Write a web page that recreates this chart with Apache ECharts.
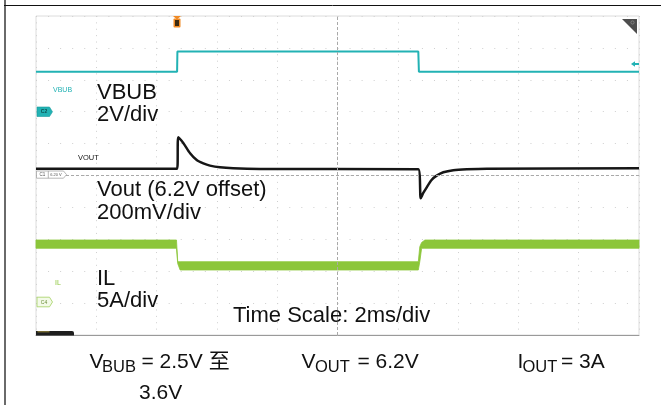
<!DOCTYPE html>
<html><head><meta charset="utf-8">
<script src="https://cdn.jsdelivr.net/npm/echarts@6/dist/echarts.min.js"></script>
<style>html,body{margin:0;padding:0;background:#fff}#c{width:661px;height:405px}</style>
</head><body><div id="c"></div>
<script>
// ---- time axis: 2 ms/div, 10 divisions ----
const timeMin = 0, timeMax = 20, timeStep = 2;

// ---- VBUB channel (V), 2 V/div ----
const vbubTime  = [0, 4.68, 4.69, 12.68, 12.70, 20];
const vbubVolts = [2.50, 2.50, 3.77, 3.77, 2.50, 2.50];

// ---- VOUT channel (V), 200 mV/div, 6.2 V offset ----
const voutTime  = [0, 4.68, 4.72, 4.89, 5.11, 5.33, 5.55, 5.77, 6.10, 6.54, 7.43, 12.68,
                   12.76, 12.84, 12.96, 13.12, 13.29, 13.51, 13.84, 14.29, 14.95, 20];
const voutVolts = [6.243, 6.243, 6.440, 6.402, 6.339, 6.297, 6.276, 6.262, 6.251, 6.245, 6.241, 6.239,
                   6.057, 6.089, 6.126, 6.172, 6.199, 6.220, 6.233, 6.239, 6.243, 6.245];
const voutOffset = 6.2;

// ---- IL channel (A), 5 A/div: ripple envelope (top / bottom of band) ----
const ilTime   = [0, 4.66, 4.70, 4.78, 12.68, 12.73, 12.79, 12.90, 20];
const ilTop    = [9.89, 9.89, 6.49, 6.49, 6.49, 8.84, 9.50, 9.89, 9.89];
const ilBottom = [8.59, 8.59, 6.20, 5.19, 5.19, 6.50, 8.59, 8.59, 8.59];

const TEAL = '#22b2b4', GREEN = '#8cc63a', BLACK = '#161616';
const F = '"Liberation Sans", Arial, "Noto Sans CJK SC", sans-serif';

const zip = (a, b) => a.map((v, i) => [v, b[i]]);
const ilData = ilTime.map((t, i) => [t, ilTop[i], ilBottom[i]]);

function txt(x, y, text, size, color, align, weight) {
  return {
    type: 'text', x: x, y: y, z: 100,
    style: { text: text, fill: color, font: (weight ? weight + ' ' : '') + size + 'px ' + F,
             align: align || 'left', textAlign: align || 'left',
             verticalAlign: 'middle', textVerticalAlign: 'middle' }
  };
}

const chart = echarts.init(document.getElementById('c'), null, { renderer: 'canvas' });
chart.setOption({
  animation: false,
  backgroundColor: '#fff',
  grid: { left: 36, top: 16, width: 603, height: 319, show: true, borderColor: '#dcdcdc', borderWidth: 1 },
  xAxis: {
    type: 'value', min: timeMin, max: timeMax, interval: timeStep,
    axisLine: { show: true, onZero: false, lineStyle: { color: '#9a9a9a', width: 1 } },
    axisTick: { show: false }, axisLabel: { show: false },
    splitLine: { show: true, lineStyle: { color: '#cfcfcf', width: 1, type: [1, 5.38] } }
  },
  yAxis: [
    { type: 'value', min: -14, max: 6, interval: 2,
      axisLine: { show: false }, axisTick: { show: false }, axisLabel: { show: false },
      splitLine: { show: true, lineStyle: { color: '#cfcfcf', width: 1, type: [1, 11.06] } } },
    { type: 'value', min: 5.2, max: 7.2, show: false, splitLine: { show: false } },
    { type: 'value', min: -5, max: 45, show: false, splitLine: { show: false } }
  ],
  series: [
    { name: 'IL', type: 'custom', yAxisIndex: 2, data: ilData, silent: true,
      encode: { x: 0, y: [1, 2] },
      renderItem: function (params, api) {
        if (params.dataIndex !== 0) return;
        const pts = [];
        for (let i = 0; i < ilData.length; i++) pts.push(api.coord([ilData[i][0], ilData[i][1]]));
        for (let i = ilData.length - 1; i >= 0; i--) pts.push(api.coord([ilData[i][0], ilData[i][2]]));
        return { type: 'polygon', shape: { points: pts },
                 style: { fill: GREEN, stroke: GREEN, lineWidth: 0.8 } };
      } },
    { name: 'VBUB', type: 'line', yAxisIndex: 0, data: zip(vbubTime, vbubVolts),
      showSymbol: false, lineStyle: { color: TEAL, width: 2 }, silent: true },
    { name: 'VOUT', type: 'line', yAxisIndex: 1, data: zip(voutTime, voutVolts), smooth: 0.25,
      showSymbol: false, lineStyle: { color: BLACK, width: 2.5 }, silent: true,
      markLine: { silent: true, symbol: 'none', label: { show: false },
        lineStyle: { color: '#a9a9a9', width: 1, type: [3, 2] },
        data: [{ xAxis: (timeMin + timeMax) / 2 }, { yAxis: voutOffset }] } }
  ],
  graphic: [
    // outer frame
    { type: 'rect', z: 100, shape: { x: 4, y: 0, width: 2, height: 405 }, style: { fill: '#6a6a6a' } },
    { type: 'line', z: 100, shape: { x1: 4, y1: 5.5, x2: 661, y2: 5.5 }, style: { stroke: '#111', lineWidth: 1 } },
    // trigger marker
    { type: 'polygon', z: 100, shape: { points: [[173, 16], [181, 16], [177, 19.5]] }, style: { fill: '#f08a24' } },
    { type: 'rect', z: 100, shape: { x: 173.5, y: 18.5, width: 7, height: 9, r: 1 }, style: { fill: '#f08a24' } },
    { type: 'rect', z: 101, shape: { x: 175, y: 20, width: 4, height: 6 }, style: { fill: '#3b2a12' } },
    // top-right icon
    { type: 'polygon', z: 100, shape: { points: [[622, 19], [637, 19], [637, 34]] }, style: { fill: '#4d4d4d' } },
    { type: 'circle', z: 101, shape: { cx: 632.5, cy: 22.5, r: 1.6 }, style: { fill: 'none', stroke: '#8a8a8a', lineWidth: 0.8 } },
    // teal trigger level arrow
    { type: 'polygon', z: 100, shape: { points: [[631, 64], [635, 61.3], [635, 66.7]] }, style: { fill: TEAL } },
    { type: 'rect', z: 100, shape: { x: 634.5, y: 63, width: 4.5, height: 2 }, style: { fill: TEAL } },
    // C2 marker
    { type: 'polygon', z: 100, shape: { points: [[37, 107], [49.5, 107], [52.5, 111.8], [49.5, 116.5], [37, 116.5]] },
      style: { fill: TEAL, stroke: '#1a9a9c', lineWidth: 0.6 } },
    txt(44, 112, 'C2', 5, '#0d4f50', 'center', 'bold'),
    // C1 marker
    { type: 'polygon', z: 100, shape: { points: [[36.5, 171], [63.5, 171], [66.5, 174.6], [63.5, 178.2], [36.5, 178.2]] },
      style: { fill: '#fff', stroke: '#9a9a9a', lineWidth: 0.7 } },
    { type: 'line', z: 101, shape: { x1: 48.3, y1: 171, x2: 48.3, y2: 178.2 }, style: { stroke: '#9a9a9a', lineWidth: 0.7 } },
    txt(42.4, 174.7, 'C1', 4.5, '#555', 'center'),
    txt(56, 174.7, '6.20 V', 4, '#555', 'center'),
    // C4 marker
    { type: 'polygon', z: 100, shape: { points: [[37, 297.2], [49.5, 297.2], [52.5, 302], [49.5, 306.8], [37, 306.8]] },
      style: { fill: '#f3fae8', stroke: '#a2d160', lineWidth: 0.8 } },
    txt(44, 302.2, 'C4', 5, '#6d8f3c', 'center'),
    // Ch1 tab
    { type: 'rect', z: 100, shape: { x: 36, y: 331, width: 38, height: 4.5, r: [0, 2, 0, 0] }, style: { fill: '#1e1e1e' } },
    { type: 'rect', z: 101, shape: { x: 37.5, y: 331.3, width: 12, height: 1 }, style: { fill: '#9c8c3c' } },
    // small channel names
    txt(53, 90.5, 'VBUB', 7, TEAL),
    txt(78, 158, 'VOUT', 7.5, BLACK),
    txt(55, 283, 'IL', 7, GREEN),
    // big annotations
    txt(97, 92.9, 'VBUB', 22, '#111'),
    txt(97, 114.9, '2V/div', 22, '#111'),
    txt(97, 190.2, 'Vout (6.2V offset)', 22, '#111'),
    txt(97, 212.5, '200mV/div', 22, '#111'),
    txt(97, 279, 'IL', 22, '#111'),
    txt(97, 301.3, '5A/div', 22, '#111'),
    txt(233, 316, 'Time Scale: 2ms/div', 22, '#111'),
    // bottom conditions
    txt(89.5, 361.8, 'V', 21, '#111'),
    txt(102, 367, 'BUB', 16.5, '#111'),
    txt(141.5, 361.8, '= 2.5V 至', 21, '#111'),
    txt(139, 392.8, '3.6V', 21, '#111'),
    txt(301.5, 361.8, 'V', 21, '#111'),
    txt(315, 367, 'OUT', 16.5, '#111'),
    txt(357.5, 361.8, '= 6.2V', 21, '#111'),
    txt(517.5, 361.8, 'I', 21, '#111'),
    txt(522.5, 367, 'OUT', 16.5, '#111'),
    txt(561, 361.8, '= 3A', 21, '#111')
  ]
});
</script></body></html>
